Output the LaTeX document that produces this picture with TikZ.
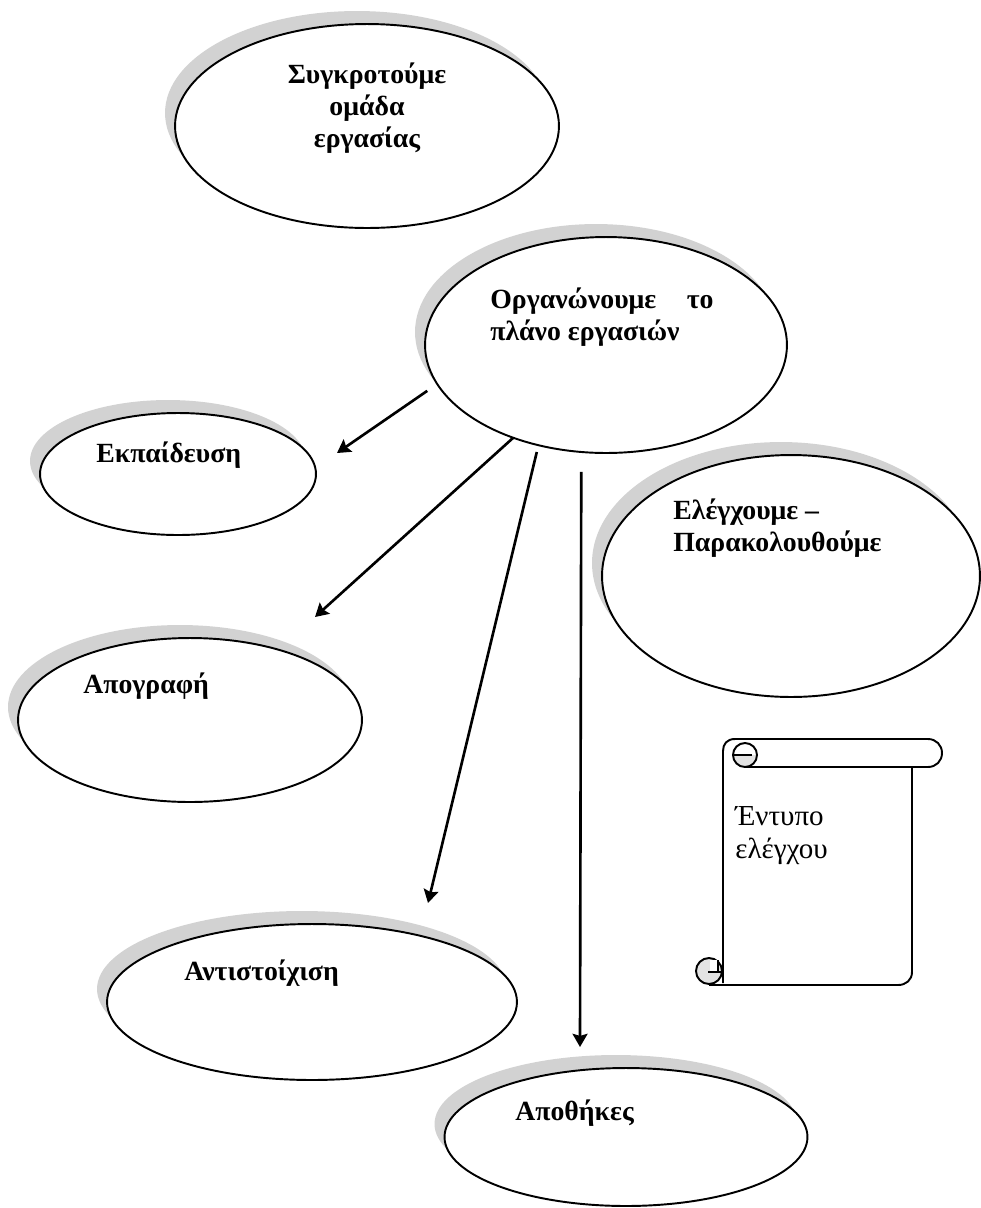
\documentclass[tikz,border=0pt]{standalone}
\usepackage{fontspec}
\setmainfont{Liberation Serif}
\usetikzlibrary{shapes.geometric,shadows,arrows.meta}
\begin{document}
\begin{tikzpicture}[x=0.02cm,y=-0.02cm,
  bub/.style={ellipse, draw, line width=1.1pt, fill=white, inner sep=0pt, outer sep=0pt,
    drop shadow={shadow xshift=-5.7pt, shadow yshift=7.4pt, fill=gray!35, opacity=1}},
  lbl/.style={font=\fontsize{15.8}{18.1}\selectfont\bfseries, inner sep=0pt, anchor=base west, align=left},
  arr/.style={line width=1.5pt, -{Stealth[length=7.5pt, width=8.5pt, inset=1.2pt]}},
  scrollline/.style={line width=1.1pt}
]
\useasboundingbox (0,0) rectangle (981,1208);

% ellipses
\node[bub, minimum width=7.68cm, minimum height=4.08cm] (synk) at (367,126) {};
\node[bub, minimum width=7.24cm, minimum height=4.32cm] (org) at (606,345) {};
\node[bub, minimum width=5.52cm, minimum height=2.44cm] (ekp) at (178,474) {};
\node[bub, minimum width=6.88cm, minimum height=3.28cm] (apog) at (190,720) {};
\node[bub, minimum width=7.56cm, minimum height=4.84cm] (eleg) at (791,576) {};
\node[bub, minimum width=8.2cm, minimum height=3.12cm] (anti) at (312,1002) {};
\node[bub, minimum width=7.26cm, minimum height=2.76cm] (apoth) at (626,1137) {};

% labels (base anchor = baseline of the last line)
\node[lbl, anchor=base, align=center] (synkT) at (367,147) {Συγκροτούμε\\ομάδα\\εργασίας};
\node[lbl] (orgT) at (490,340) {\makebox[127pt][s]{Οργανώνουμε\hfill το}\\πλάνο εργασιών};
\node[lbl] (ekpT) at (96,462) {Εκπαίδευση};
\node[lbl] (apogT) at (83,693) {Απογραφή};
\node[lbl] (elegT) at (673,551) {Ελέγχουμε –\\Παρακολουθούμε};
\node[lbl] (antiT) at (184,980) {Αντιστοίχιση};
\node[lbl] (apothT) at (515,1120) {Αποθήκες};

% arrow end points
\coordinate (t1) at (337,453);
\coordinate (t2) at (315,617);
\coordinate (t3) at (428,903);
\coordinate (t4) at (580,1047);

\draw[arr, shorten <=6.9pt] (org.193) -- (t1);
\draw[arr] (org.225) -- (t2);
\draw[arr, shorten <=4pt] (org.236) -- (t3);
\draw[arr, shorten <=11.3pt] (org.257) -- (t4);

% scroll (form)
\draw[scrollline] (723,983) -- (723,751) .. controls (723,744) and (727,739) .. (735,739)
  -- (928,739) .. controls (936,739) and (942,745) .. (942,753)
  .. controls (942,761) and (936,767) .. (928,767) -- (745,767);
\draw[scrollline] (912,767) -- (912,972) .. controls (912,980) and (906,985) .. (898,985) -- (709,985);
% top curl
\begin{scope}
  \clip (730,755) rectangle (760,770);
  \fill[gray!22] (745,755) circle[radius=12];
\end{scope}
\draw[scrollline] (745,755) circle[radius=12];
\draw[scrollline] (733,755) -- (752,755);
% bottom curl
\draw[scrollline, fill=gray!22] (709,971) circle[radius=13];
\fill[white] (710,960) rectangle (717,971);
\draw[scrollline] (708,972) -- (723,972);
\draw[scrollline] (718,960) -- (718,972);

\node[lbl, font=\fontsize{16.5}{18.5}\selectfont] (formT) at (735,858) {Έντυπο\\ελέγχου};
\end{tikzpicture}
\end{document}
